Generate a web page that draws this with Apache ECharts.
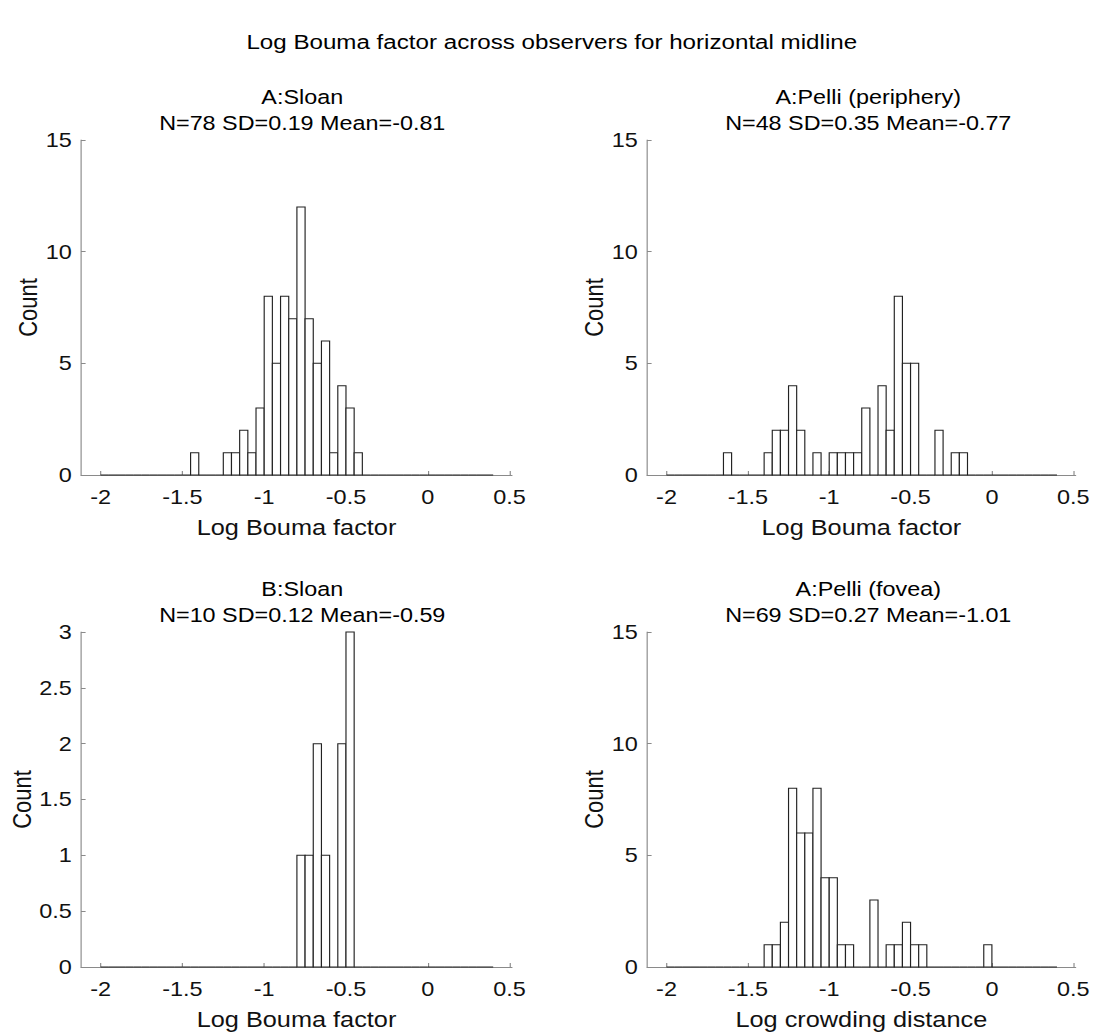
<!DOCTYPE html>
<html>
<head>
<meta charset="utf-8">
<script src="https://cdn.jsdelivr.net/npm/echarts@6/dist/echarts.min.js"></script>
<style>
html,body{margin:0;padding:0;background:#fff;overflow:hidden}
#wrap{width:1093px;height:1033px;overflow:hidden}
#c{width:950px;height:1033px;transform:scaleX(1.150526);transform-origin:0 0}
</style>
</head>
<body>
<div id="wrap"><div id="c"></div></div>
<script>
// ---- data ----
const mainTitle = 'Log Bouma factor across observers for horizontal midline';
const panelNames = ['A:Sloan', 'A:Pelli (periphery)', 'B:Sloan', 'A:Pelli (fovea)'];
const panelStats = ['N=78 SD=0.19 Mean=-0.81', 'N=48 SD=0.35 Mean=-0.77', 'N=10 SD=0.12 Mean=-0.59', 'N=69 SD=0.27 Mean=-1.01'];
const xLabels = ['Log Bouma factor', 'Log Bouma factor', 'Log Bouma factor', 'Log crowding distance'];
const binStart = -2;
const binWidth = 0.05;
const xTicks = [-2, -1.5, -1, -0.5, 0, 0.5];
const countsSloanA = [0,0,0,0,0,0,0,0,0,0,0,1,0,0,0,1,1,2,1,3,8,5,8,7,12,7,5,6,1,4,3,1,0,0,0,0,0,0,0,0,0,0,0,0,0,0,0,0];
const countsPelliPeriph = [0,0,0,0,0,0,0,1,0,0,0,0,1,2,2,4,2,0,1,0,1,1,1,1,3,0,4,2,8,5,5,0,0,2,0,1,1,0,0,0,0,0,0,0,0,0,0,0];
const countsSloanB = [0,0,0,0,0,0,0,0,0,0,0,0,0,0,0,0,0,0,0,0,0,0,0,0,1,1,2,1,0,2,3,0,0,0,0,0,0,0,0,0,0,0,0,0,0,0,0,0];
const countsPelliFovea = [0,0,0,0,0,0,0,0,0,0,0,0,1,1,2,8,6,6,8,4,4,1,1,0,0,3,0,1,1,2,1,1,0,0,0,0,0,0,0,1,0,0,0,0,0,0,0,0];
const yMax = [15, 15, 3, 15];
const yStep = [5, 5, 0.5, 5];
const allCounts = [countsSloanA, countsPelliPeriph, countsSloanB, countsPelliFovea];

// ---- layout (page pixels, converted to the horizontally scaled drawing space) ----
const S = 1093 / 950;
const px = v => v / S;
const gridsPage = [
  {left: 81, top: 140, width: 431, height: 335},
  {left: 647, top: 140, width: 431, height: 335},
  {left: 81, top: 632, width: 431, height: 335},
  {left: 647, top: 632, width: 431, height: 335}
];
const grids = gridsPage.map(g => ({left: px(g.left), top: g.top, width: px(g.width), height: g.height}));
const yNameGap = [35, 35, 40, 35];
const FONT = '"Liberation Sans", Arial, Helvetica, sans-serif';
const axisCol = '#8a8a8a';
const txtCol = '#111';

const titles = [{
  text: mainTitle, left: px(546), top: 27, textAlign: 'center',
  textStyle: {fontFamily: FONT, fontSize: 21, fontWeight: 'normal', color: '#000'}
}];
grids.forEach((g, k) => {
  titles.push({
    text: panelNames[k] + '\n' + panelStats[k],
    left: g.left + g.width / 2, top: g.top - 61, textAlign: 'center',
    textStyle: {fontFamily: FONT, fontSize: 20.3, fontWeight: 'normal', color: '#000', lineHeight: 26}
  });
});

const xAxes = grids.map((g, k) => ({
  type: 'value', gridIndex: k, min: -2.12, max: 0.515,
  name: xLabels[k], nameLocation: 'middle', nameGap: 42,
  nameTextStyle: {fontFamily: FONT, fontSize: 22, color: txtCol},
  axisLine: {show: true, onZero: false, lineStyle: {color: axisCol, width: 1}},
  axisTick: {show: true, inside: true, length: 4, customValues: xTicks, lineStyle: {color: axisCol}},
  axisLabel: {customValues: xTicks, fontFamily: FONT, fontSize: 20.4, color: txtCol, margin: 12,
    formatter: v => String(v)},
  splitLine: {show: false}
}));
const yAxes = grids.map((g, k) => ({
  type: 'value', gridIndex: k, min: 0, max: yMax[k], interval: yStep[k],
  name: 'Count', nameLocation: 'middle', nameGap: yNameGap[k],
  nameTextStyle: {fontFamily: FONT, fontSize: 22, color: txtCol},
  axisLine: {show: true, onZero: false, lineStyle: {color: axisCol, width: 1}},
  axisTick: {show: true, inside: true, length: 4, lineStyle: {color: axisCol}},
  axisLabel: {fontFamily: FONT, fontSize: 20.4, color: txtCol, margin: 8,
    formatter: v => String(v)},
  splitLine: {show: false}
}));

const series = allCounts.map((counts, k) => ({
  type: 'custom', xAxisIndex: k, yAxisIndex: k,
  encode: {x: [0, 1], y: 2},
  data: counts.map((c, i) => [binStart + i * binWidth, binStart + (i + 1) * binWidth, c]),
  renderItem: function (params, api) {
    const p0 = api.coord([api.value(0), api.value(2)]);
    const p1 = api.coord([api.value(1), 0]);
    return {
      type: 'rect',
      shape: {x: p0[0], y: p0[1], width: p1[0] - p0[0], height: p1[1] - p0[1]},
      style: {fill: '#fff', stroke: '#222', lineWidth: 1}
    };
  },
  silent: true, animation: false
}));

const chart = echarts.init(document.getElementById('c'), null, {renderer: 'svg'});
chart.setOption({
  backgroundColor: '#fff',
  animation: false,
  title: titles,
  grid: grids,
  xAxis: xAxes,
  yAxis: yAxes,
  series: series
});
</script>
</body>
</html>
